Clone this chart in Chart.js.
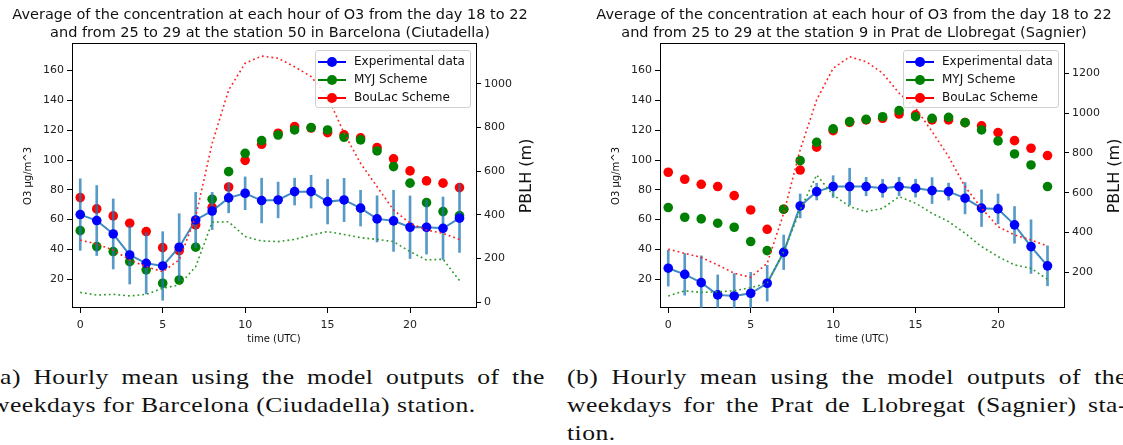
<!DOCTYPE html>
<html>
<head>
<meta charset="utf-8">
<script src="https://cdn.jsdelivr.net/npm/chart.js@4.4.1/dist/chart.umd.min.js"></script>
<style>
  body { margin: 0; width: 1123px; height: 445px; overflow: hidden; background: #fff; position: relative; }
  canvas { position: absolute; top: 0; }
  .legend { position: absolute; top: 50px; width: 154px; height: 56px; border: 1px solid #d0d0d0; border-radius: 3px; background: rgba(255,255,255,0.85); font: 12px "DejaVu Sans"; color: #111; }
  .legend .row { position: absolute; left: 0; height: 18px; width: 100%; }
  .legend .ln { position: absolute; left: 2px; top: 8px; width: 28px; height: 2px; }
  .legend .dot { position: absolute; left: 11px; top: 4px; width: 10px; height: 10px; border-radius: 50%; }
  .legend .tx { position: absolute; left: 38px; top: 1px; white-space: nowrap; }
  .cap { position: absolute; font: 21px "Liberation Serif"; line-height: 28px; white-space: nowrap; color: #111;
         letter-spacing: 0.4px; transform: scaleX(1.22); transform-origin: 0 0; }
  .just { text-align: justify; text-align-last: justify; }
</style>
</head>
<body>
<canvas id="chartA" width="540" height="350" style="left:0px"></canvas>
<canvas id="chartB" width="536" height="350" style="left:586px"></canvas>
<div class="legend" id="legA" style="left:315px"></div>
<div class="legend" id="legB" style="left:903px"></div>

<div class="cap just" style="left:-9px; top:363px; width:454px">(a) Hourly mean using the model outputs of the</div>
<div class="cap" style="left:-9px; top:391px">weekdays for Barcelona (Ciudadella) station.</div>
<div class="cap just" style="left:567px; top:363px; width:459px">(b) Hourly mean using the model outputs of the</div>
<div class="cap just" style="left:567px; top:391px; width:459px">weekdays for the Prat de Llobregat (Sagnier) sta-</div>
<div class="cap" style="left:567px; top:419px">tion.</div>

<script>
// hours of the day
const hours = [0,1,2,3,4,5,6,7,8,9,10,11,12,13,14,15,16,17,18,19,20,21,22,23];
const xTicks = [0, 5, 10, 15, 20];
const o3Ticks = [20, 40, 60, 80, 100, 120, 140, 160];
const pblhTicksA = [0, 200, 400, 600, 800, 1000];
const pblhTicksB = [200, 400, 600, 800, 1000, 1200];

const seriesLabels = ['Experimental data', 'MYJ Scheme', 'BouLac Scheme'];
const seriesColors = ['#0000ff', '#008000', '#ff0000'];

// (a) Barcelona (Ciutadella), station 50
const expA = [63.4, 59.4, 50.4, 36.3, 30.7, 28.9, 41.5, 59.8, 65.8, 74.6, 77.7, 72.8, 73.2, 78.8, 78.8, 72.1, 73.2, 67.7, 60.5, 59.2, 54.9, 54.9, 54.2, 61.0];
const errA = [24, 23.5, 23.5, 19.5, 20.5, 23, 22.5, 18.5, 12.5, 10, 11, 15, 12, 9, 11, 15, 14.5, 12, 15.5, 20.5, 21, 18, 21, 23];
const myjA = [52.6, 41.9, 38.6, 31.8, 26.3, 17.3, 19.5, 41.5, 73.7, 92.2, 104.5, 113, 116.8, 120.2, 121.8, 120.2, 115.3, 113.5, 106.1, 95.6, 84.5, 71.4, 65.4, 62.7];
const boulacA = [74.8, 67.2, 62.5, 57.6, 52, 41.2, 39.2, 56.5, 68.3, 81.9, 99.8, 110.6, 118, 122.4, 121.5, 118.4, 116.9, 114.9, 108.3, 100.8, 92.7, 86, 84.5, 81.5];
const pblhMyjA = [44, 32, 35, 28, 35, 63, 78, 162, 366, 368, 300, 280, 277, 287, 307, 323, 310, 295, 287, 277, 231, 193, 196, 98];
const pblhBouA = [284, 266, 238, 193, 162, 139, 193, 391, 728, 972, 1095, 1128, 1118, 1079, 1034, 942, 774, 636, 529, 422, 361, 330, 315, 287];

// (b) Prat de Llobregat (Sagnier), station 9
const expB = [27.4, 23.3, 17.7, 9.5, 8.8, 10.6, 17.3, 38.1, 69.2, 78.8, 82.2, 82.2, 82.2, 81.0, 82.2, 81.1, 79.5, 78.8, 74.4, 67.7, 67.2, 56.5, 41.9, 29.0];
const errB = [12, 14, 18, 13.4, 15, 14, 12, 11.6, 8, 5.6, 7.3, 12.3, 6.2, 6, 6.2, 6, 8.7, 5.7, 10.5, 12.3, 10, 12.3, 18, 13.4];
const myjB = [68.1, 61.6, 60.5, 57.6, 54.9, 45.3, 39.2, 67, 99.6, 111.9, 120.9, 125.8, 127.3, 129.1, 133.2, 129.1, 128, 128.7, 125.1, 120.2, 112.8, 104.1, 96.7, 82.2];
const boulacB = [91.8, 87.1, 83.7, 82.2, 76.1, 66.5, 53.5, 67, 93.3, 108.6, 119.7, 125.3, 126.9, 128, 130.9, 130.3, 126.9, 126.9, 125.1, 122.9, 118.4, 113, 107.9, 103];
const pblhMyjB = [81, 107, 99, 102, 107, 123, 145, 303, 513, 689, 588, 530, 505, 521, 580, 547, 496, 455, 396, 329, 279, 237, 220, 165];
const pblhBouB = [316, 295, 275, 237, 195, 175, 245, 496, 815, 1066, 1225, 1283, 1258, 1200, 1100, 1024, 907, 781, 630, 522, 429, 388, 362, 332];

const titleA = ['Average of the concentration at each hour of O3 from the day 18 to 22',
                'and from 25 to 29 at the station 50 in Barcelona (Ciutadella)'];
const titleB = ['Average of the concentration at each hour of O3 from the day 18 to 22',
                'and from 25 to 29 at the station 9 in Prat de Llobregat (Sagnier)'];

Chart.defaults.font.family = '"DejaVu Sans"';
Chart.defaults.color = '#222';

function pts(vals) {
    return hours.map((h, i) => ({x: h, y: vals[i]}));
}

// right hand y label, matplotlib writes it bottom to top
const rightLabel = {
    id: 'rightLabel',
    afterDraw(chart, args, opts) {
        const ctx = chart.ctx;
        const area = chart.chartArea;
        ctx.save();
        ctx.translate(area.right + opts.offset, (area.top + area.bottom) / 2);
        ctx.rotate(-Math.PI / 2);
        ctx.font = '16px "DejaVu Sans"';
        ctx.fillStyle = '#111';
        ctx.textAlign = 'center';
        ctx.textBaseline = 'middle';
        ctx.fillText(opts.text, 0, 0);
        ctx.restore();
    }
};

function tickAxis(extra) {
    return Object.assign({
        type: 'linear',
        grid: {display: true, drawOnChartArea: false, drawTicks: true, tickLength: 5, color: '#000', offset: false},
        border: {display: true, color: '#000', width: 1},
        ticks: {font: {size: 11}, color: '#222', padding: 3, callback: v => String(v)}
    }, extra);
}

function buildChart(id, s, sizes) {
    const ctx = document.getElementById(id);
    new Chart(ctx, {
        type: 'line',
        data: {
            datasets: [
                { // PBLH, secondary axis, drawn on top
                    label: 'PBLH BouLac', data: pts(s.pblhBou), yAxisID: 'y2', order: 0,
                    borderColor: '#ff2020', borderWidth: 1.6, borderDash: [1.8, 3], pointRadius: 0, fill: false
                },
                {
                    label: 'PBLH MYJ', data: pts(s.pblhMyj), yAxisID: 'y2', order: 0,
                    borderColor: '#2a9a2a', borderWidth: 1.6, borderDash: [1.8, 3], pointRadius: 0, fill: false
                },
                {
                    label: seriesLabels[0], data: pts(s.exp), yAxisID: 'y', order: 1,
                    borderColor: 'rgba(31,119,180,0.85)', borderWidth: 2,
                    pointRadius: 4.8, pointBackgroundColor: seriesColors[0], pointBorderWidth: 0
                },
                {
                    type: 'bar', label: 'error', yAxisID: 'y', order: 2,
                    data: hours.map((h, i) => ({x: h, y: [s.exp[i] - s.err[i], s.exp[i] + s.err[i]]})),
                    backgroundColor: 'rgba(31,119,180,0.75)', borderWidth: 0, barThickness: 2, grouped: false
                },
                {
                    label: seriesLabels[1], data: pts(s.myj), yAxisID: 'y', order: 3, showLine: false,
                    pointRadius: 4.8, pointBackgroundColor: seriesColors[1], pointBorderWidth: 0
                },
                {
                    label: seriesLabels[2], data: pts(s.boulac), yAxisID: 'y', order: 4, showLine: false,
                    pointRadius: 4.8, pointBackgroundColor: seriesColors[2], pointBorderWidth: 0
                }
            ]
        },
        options: {
            responsive: false,
            animation: false,
            events: [],
            layout: {padding: 0},
            plugins: {
                legend: {display: false},
                tooltip: {enabled: false},
                title: {
                    display: true, text: s.title, color: '#111',
                    font: {size: 14.5, weight: 'normal', lineHeight: 1.24},
                    padding: {top: 6.5, bottom: 1.5}
                },
                rightLabel: {text: 'PBLH (m)', offset: sizes.rightLabel}
            },
            scales: {
                x: tickAxis({
                    position: 'bottom', min: -0.5, max: 24, offset: false,
                    afterBuildTicks: a => { a.ticks = xTicks.map(v => ({value: v})); },
                    afterFit: a => { a.height = 42; },
                    ticks: {font: {size: 11}, color: '#222', padding: 6, callback: v => String(v)},
                    title: {display: true, text: 'time (UTC)', font: {size: 10}, color: '#111', padding: {top: 0, bottom: 4.5}}
                }),
                xTop: {
                    type: 'linear', position: 'top', min: -0.5, max: 24,
                    ticks: {display: false}, grid: {display: false},
                    border: {display: true, color: '#000', width: 1},
                    afterFit: a => { a.height = 0; }
                },
                y: tickAxis({
                    position: 'left', min: 0.7, max: 177.9,
                    afterBuildTicks: a => { a.ticks = o3Ticks.map(v => ({value: v})); },
                    afterFit: a => { a.width = sizes.left; },
                    title: {display: true, text: 'O3 µg/m^3', font: {size: 10}, color: '#111', padding: {top: sizes.yTitle - 6, bottom: 0}}
                }),
                y2: tickAxis({
                    position: 'right', min: s.y2Min, max: s.y2Max,
                    afterBuildTicks: a => { a.ticks = s.y2Ticks.map(v => ({value: v})); },
                    afterFit: a => { a.width = sizes.right; }
                })
            }
        },
        plugins: [rightLabel]
    });
}

function buildLegend(id) {
    const box = document.getElementById(id);
    seriesLabels.forEach((name, i) => {
        const row = document.createElement('div');
        row.className = 'row';
        row.style.top = (2 + i * 18) + 'px';
        row.innerHTML = '<span class="ln" style="background:' + seriesColors[i] + '"></span>' +
            '<span class="dot" style="background:' + seriesColors[i] + '"></span>' +
            '<span class="tx">' + name + '</span>';
        box.appendChild(row);
    });
}

buildChart('chartA', {
    exp: expA, err: errA, myj: myjA, boulac: boulacA, pblhMyj: pblhMyjA, pblhBou: pblhBouA,
    title: titleA, y2Min: -27.5, y2Max: 1183.5, y2Ticks: pblhTicksA
}, {left: 72, right: 64, yTitle: 28, rightLabel: 51});

buildChart('chartB', {
    exp: expB, err: errB, myj: myjB, boulac: boulacB, pblhMyj: pblhMyjB, pblhBou: pblhBouB,
    title: titleB, y2Min: 20.6, y2Max: 1347, y2Ticks: pblhTicksB
}, {left: 74, right: 58, yTitle: 30, rightLabel: 51});

buildLegend('legA');
buildLegend('legB');
</script>
</body>
</html>
